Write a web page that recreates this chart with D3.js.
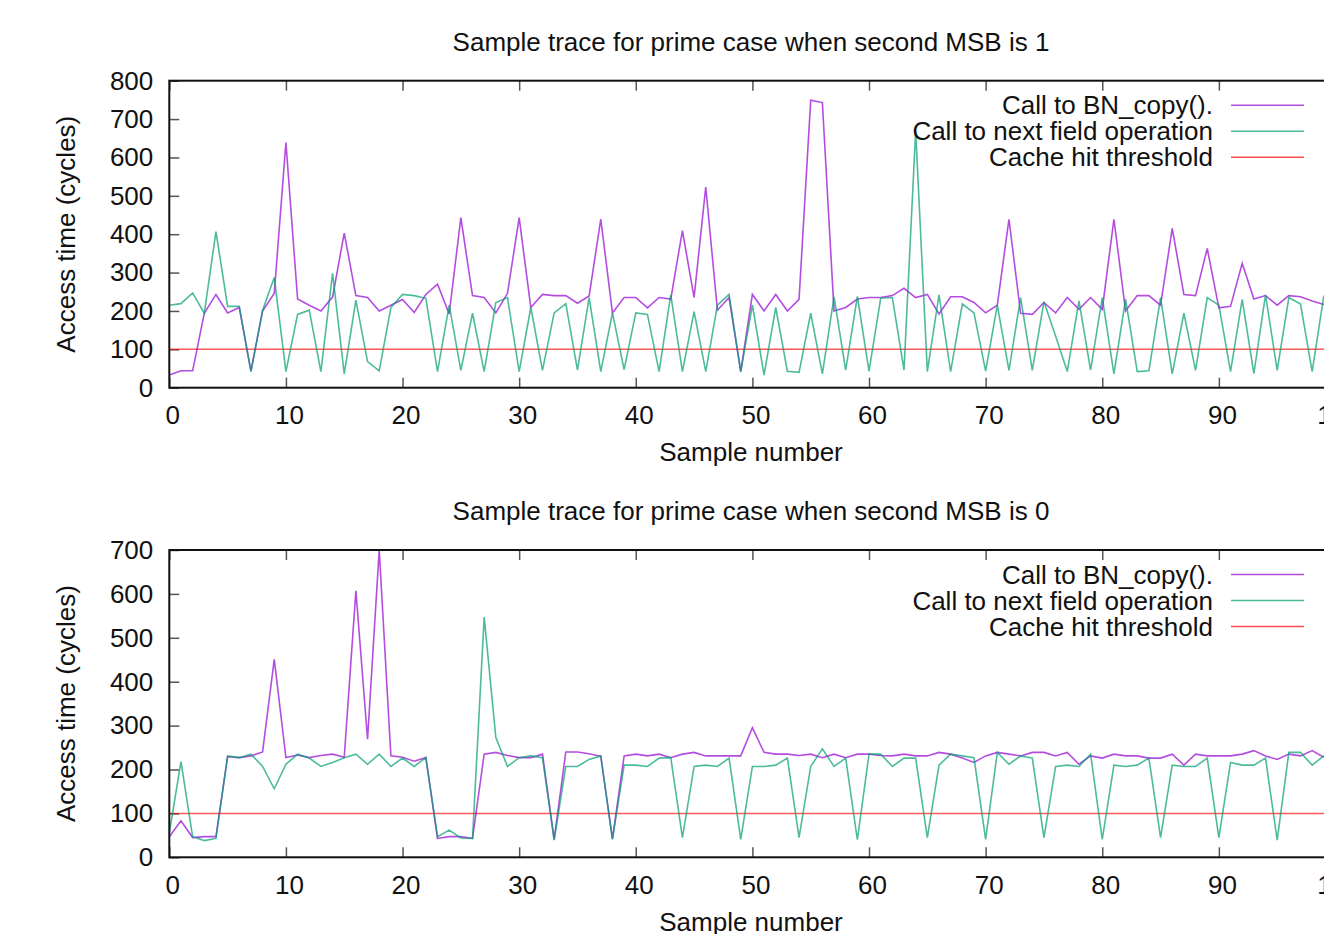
<!DOCTYPE html>
<html>
<head>
<meta charset="utf-8">
<script src="https://cdn.jsdelivr.net/npm/d3@7"></script>
<style>
  html, body { margin: 0; padding: 0; background: #fff; overflow: hidden; }
  svg { display: block; font-family: "Liberation Sans", Arial, sans-serif; }
</style>
</head>
<body>
<svg id="chart" width="1324" height="934"></svg>
<script>
// sample traces, samples 0..99
const samples = d3.range(0, 100)

const topCopy = [33,44,44,194,243,195,209,43,200,246,
  639,231,215,200,236,403,240,235,200,215,
  230,196,243,270,192,443,240,235,195,246,
  443,209,243,240,240,220,239,439,195,235,
  235,208,235,231,409,235,523,202,235,42,
  243,200,243,200,230,749,743,200,209,231,
  235,235,240,259,235,243,192,237,237,222,
  195,215,439,194,191,222,195,235,204,235,
  204,439,200,240,240,215,415,243,240,363,
  208,212,324,231,240,215,240,237,226,217]

const topField = [215,219,247,194,407,212,212,42,202,287,
  42,191,202,42,298,36,228,68,44,209,
  243,240,233,42,215,45,194,42,222,235,
  42,209,45,195,219,46,235,42,195,47,
  195,191,42,242,42,198,42,215,243,42,
  215,33,209,43,40,194,36,237,46,238,
  43,233,235,46,669,42,242,42,218,195,
  43,215,45,235,45,224,135,42,226,46,
  235,36,231,42,44,235,36,194,45,235,
  215,42,230,37,242,45,235,218,42,240]

const botCopy = [47,83,45,47,47,229,227,231,240,451,
  227,233,227,232,235,228,607,269,700,231,
  228,219,227,43,47,47,43,235,239,232,
  227,227,235,41,240,240,236,230,42,231,
  235,231,235,227,235,239,231,231,231,231,
  295,239,235,235,232,235,227,235,227,235,
  235,232,231,235,231,231,239,235,226,216,
  231,239,235,231,239,239,231,239,212,231,
  226,235,231,231,226,226,235,210,235,231,
  231,231,235,243,231,223,235,231,243,228]

const botField = [55,218,47,38,43,231,227,235,207,156,
  212,235,226,207,216,227,235,212,235,207,
  226,207,227,47,62,44,43,547,273,207,
  227,231,227,39,207,207,223,231,41,210,
  210,207,226,227,45,207,210,207,226,41,
  207,207,210,226,45,207,247,207,226,40,
  235,235,207,226,226,45,210,235,231,227,
  41,239,212,231,226,45,207,210,207,235,
  41,210,207,210,226,45,210,207,207,226,
  45,216,210,210,226,39,239,239,210,231]

const threshold = 100
const seriesNames = ["Call to BN_copy().", "Call to next field operation", "Cache hit threshold"]
const seriesColors = ["#9400d3", "#009e73", "#ff0000"]

const topTitle = "Sample trace for prime case when second MSB is 1"
const botTitle = "Sample trace for prime case when second MSB is 0"
const xTicks = [0,10,20,30,40,50,60,70,80,90,100]
const topYTicks = [0,100,200,300,400,500,600,700,800]
const botYTicks = [0,100,200,300,400,500,600,700]

var svg = d3.select("#chart")
var fontSize = 26

var x = d3.scaleLinear().domain([0, 100]).range([169.3, 1335.5])

function panel(top, bottom, yMax, yTicks, title, copyData, fieldData) {
  var y = d3.scaleLinear().domain([0, yMax]).range([bottom, top])
  var g = svg.append("g")

  g.append("text")
    .attr("x", 751)
    .attr("y", top - 30)
    .attr("text-anchor", "middle")
    .attr("font-size", fontSize)
    .attr("fill", "#111")
    .text(title)

  // left axis with labels, ticks pointing inward
  var left = g.append("g")
    .attr("transform", "translate(" + x(0) + ",0)")
    .call(d3.axisLeft(y).tickValues(yTicks).tickSizeInner(-10).tickSizeOuter(0).tickPadding(16))
  left.select(".domain").remove()

  var right = g.append("g")
    .attr("transform", "translate(" + x(100) + ",0)")
    .call(d3.axisRight(y).tickValues(yTicks).tickSizeInner(-10).tickSizeOuter(0).tickFormat(""))
  right.select(".domain").remove()

  var bottomAxis = g.append("g")
    .attr("transform", "translate(0," + bottom + ")")
    .call(d3.axisBottom(x).tickValues(xTicks).tickSizeInner(-10).tickSizeOuter(0).tickPadding(18))
  bottomAxis.select(".domain").remove()
  bottomAxis.selectAll("text").attr("dx", 3)

  var topAxis = g.append("g")
    .attr("transform", "translate(0," + top + ")")
    .call(d3.axisTop(x).tickValues(xTicks).tickSizeInner(-10).tickSizeOuter(0).tickFormat(""))
  topAxis.select(".domain").remove()

  g.selectAll(".tick line").attr("stroke", "#555").attr("stroke-width", 1.5)
  g.selectAll(".tick text")
    .attr("font-size", fontSize)
    .attr("font-family", "Liberation Sans, Arial, sans-serif")
    .attr("fill", "#111")

  // threshold + traces
  g.append("line")
    .attr("x1", x(0)).attr("x2", x(100))
    .attr("y1", y(threshold)).attr("y2", y(threshold))
    .attr("stroke", seriesColors[2]).attr("stroke-opacity", 0.65).attr("stroke-width", 1.5)

  var line = d3.line().x((d, i) => x(samples[i])).y((d) => y(d))

  g.append("path")
    .datum(copyData)
    .attr("d", line)
    .attr("fill", "none")
    .attr("stroke", seriesColors[0]).attr("stroke-opacity", 0.7).attr("stroke-width", 1.6)

  g.append("path")
    .datum(fieldData)
    .attr("d", line)
    .attr("fill", "none")
    .attr("stroke", seriesColors[1]).attr("stroke-opacity", 0.7).attr("stroke-width", 1.6)

  // border
  g.append("rect")
    .attr("x", x(0)).attr("y", top)
    .attr("width", x(100) - x(0)).attr("height", bottom - top)
    .attr("fill", "none").attr("stroke", "#111").attr("stroke-width", 2)

  // legend
  seriesNames.forEach((name, i) => {
    var ly = top + 24.5 + i * 26
    g.append("text")
      .attr("x", 1213)
      .attr("y", ly + 9)
      .attr("text-anchor", "end")
      .attr("font-size", fontSize)
      .attr("fill", "#111")
      .text(name)
    g.append("line")
      .attr("x1", 1231).attr("x2", 1304)
      .attr("y1", ly).attr("y2", ly)
      .attr("stroke", seriesColors[i]).attr("stroke-opacity", 0.7).attr("stroke-width", 1.6)
  })

  g.append("text")
    .attr("x", 751)
    .attr("y", bottom + 73.5)
    .attr("text-anchor", "middle")
    .attr("font-size", fontSize)
    .attr("fill", "#111")
    .text("Sample number")

  g.append("text")
    .attr("transform", "translate(75," + (top + bottom) / 2 + ") rotate(-90)")
    .attr("text-anchor", "middle")
    .attr("font-size", fontSize)
    .attr("fill", "#111")
    .text("Access time (cycles)")
}

panel(80.7, 387.7, 800, topYTicks, topTitle, topCopy, topField)
panel(550, 857.3, 700, botYTicks, botTitle, botCopy, botField)
</script>
</body>
</html>
